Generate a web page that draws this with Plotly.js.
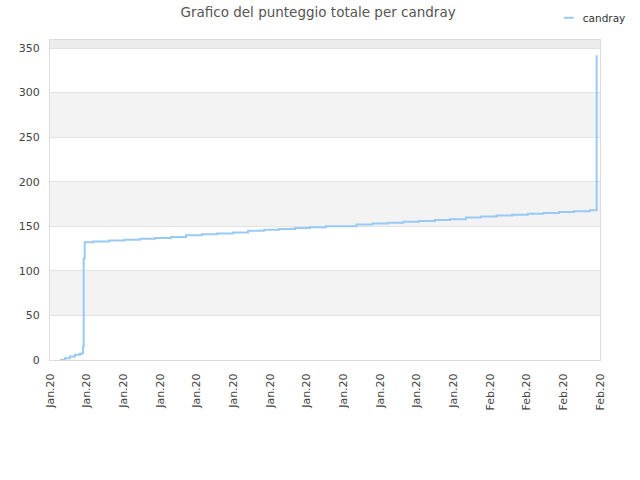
<!DOCTYPE html>
<html>
<head>
<meta charset="utf-8">
<script src="https://cdn.plot.ly/plotly-3.0.1.min.js"></script>
<style>html,body{margin:0;padding:0;background:#fff;}#chart{width:640px;height:480px;}</style>
</head>
<body>
<div id="chart"></div>
<script>
var seriesName = "candray";
var times = [
  "2020-01-05 15:30", "2020-01-05 23:15", "2020-01-06 07:00", "2020-01-06 14:45",
  "2020-01-06 22:30", "2020-01-07 02:00", "2020-01-07 03:10", "2020-01-07 04:10",
  "2020-01-07 05:45", "2020-01-07 19:05", "2020-01-08 19:50", "2020-01-09 19:05",
  "2020-01-10 19:25", "2020-01-11 18:40", "2020-01-12 19:25", "2020-01-13 18:40",
  "2020-01-14 19:25", "2020-01-15 18:40", "2020-01-16 19:30", "2020-01-17 18:45",
  "2020-01-18 19:30", "2020-01-19 18:45", "2020-01-20 19:30", "2020-01-21 18:45",
  "2020-01-22 19:30", "2020-01-24 19:05", "2020-01-25 19:55", "2020-01-26 19:10",
  "2020-01-27 19:20", "2020-01-28 19:35", "2020-01-29 20:25", "2020-01-30 19:40",
  "2020-01-31 20:25", "2020-02-01 19:40", "2020-02-02 19:58", "2020-02-03 20:08",
  "2020-02-04 20:00", "2020-02-05 20:10", "2020-02-06 20:30", "2020-02-07 20:10",
  "2020-02-08 20:30", "2020-02-09 06:50"
];
var scores = [
  0, 2, 4, 6,
  7, 8, 15, 114,
  132, 133, 134, 135,
  136, 137, 138, 140,
  141, 142, 143, 145,
  146, 147, 148, 149,
  150, 152, 153, 154,
  155, 156, 157, 158,
  160, 161, 162, 163,
  164, 165, 166, 167,
  168, 342
];
var xStart = "2020-01-05 00:00";
var xEnd = "2020-02-09 12:00";
var yTicks = [0, 50, 100, 150, 200, 250, 300, 350];
var bandPairs = [[50, 100], [150, 200], [250, 300]];

var spanMs = new Date(xEnd.replace(" ", "T") + "Z") - new Date(xStart.replace(" ", "T") + "Z");

var shapes = bandPairs.map(function (b) {
  return {type: "rect", xref: "paper", yref: "y", x0: 0, x1: 1, y0: b[0], y1: b[1],
          fillcolor: "#f3f3f3", line: {width: 0}, layer: "below"};
});
shapes.push({type: "rect", xref: "paper", yref: "y", x0: 0, x1: 1, y0: 350, y1: 359,
             fillcolor: "#ececec", line: {width: 0}, layer: "below"});

var trace = {
  x: times, y: scores, type: "scatter", mode: "lines", name: seriesName,
  line: {shape: "hv", color: "rgb(153,201,245)", width: 2}
};

var layout = {
  width: 640, height: 480,
  margin: {l: 50, r: 40, t: 40, b: 120, autoexpand: false},
  paper_bgcolor: "#ffffff", plot_bgcolor: "#ffffff",
  font: {family: "DejaVu Sans, sans-serif", size: 11, color: "#444"},
  title: {text: "Grafico del punteggio totale per candray", x: 0.497, xanchor: "center",
          y: 0.975, yanchor: "middle", font: {size: 13.5, color: "#555"}},
  showlegend: true,
  legend: {x: 1.056, xanchor: "right", y: 1.115, yanchor: "top", bgcolor: "rgba(0,0,0,0)",
           font: {size: 10.5, color: "#333"}, itemwidth: 30},
  xaxis: {
    type: "date", range: [xStart, xEnd],
    tickmode: "linear", tick0: xStart, dtick: spanMs / 15,
    tickformat: "%b.%y", tickangle: -90,
    showgrid: false, zeroline: false,
    showline: true, mirror: true, linecolor: "#dcdcdc", linewidth: 1,
    ticks: "outside", ticklen: 8, tickcolor: "rgba(0,0,0,0)",
    tickfont: {size: 11, color: "#444"}
  },
  yaxis: {
    range: [0, 359], tickmode: "array", tickvals: yTicks,
    showgrid: true, gridcolor: "#e2e2e2", zeroline: false,
    showline: true, mirror: true, linecolor: "#dcdcdc", linewidth: 1,
    ticks: "outside", ticklen: 7, tickcolor: "rgba(0,0,0,0)",
    tickfont: {size: 11, color: "#444"}
  },
  shapes: shapes
};

Plotly.newPlot("chart", [trace], layout, {displayModeBar: false, staticPlot: true}).then(function (gd) {
  var paths = gd.querySelectorAll(".legend .legendlines path");
  paths.forEach(function (p) { p.setAttribute("d", "M21,0h10"); });
});
</script>
</body>
</html>
